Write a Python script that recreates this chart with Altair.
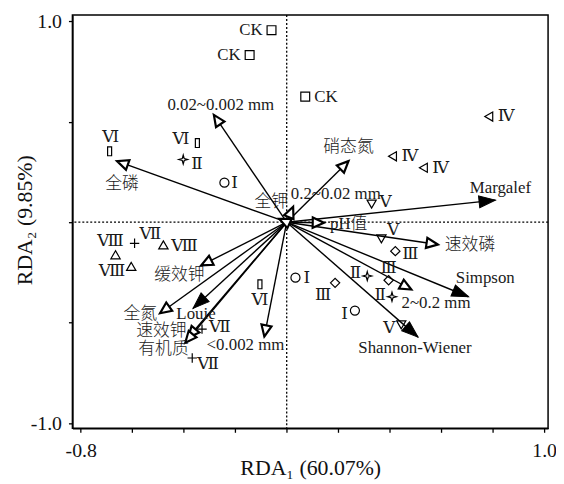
import math
import altair as alt
import pandas as pd

# ---------------- data ----------------
arrow_names = ["0.02~0.002 mm", "全磷", "全钾", "0.2~0.02 mm", "硝态氮", "Margalef", "pH值",
               "速效磷", "Simpson", "2~0.2 mm", "Shannon-Wiener", "缓效钾", "全氮", "Louie",
               "速效钾", "有机质", "<0.002 mm"]
arrow_x = [-0.283, -0.659, -0.029, 0.025, 0.240, 0.811, 0.145, 0.587, 0.706, 0.484, 0.510,
           -0.332, -0.492, -0.364, -0.383, -0.394, -0.087]
arrow_y = [0.534, 0.304, 0.017, 0.077, 0.304, 0.110, -0.003, -0.111, -0.371, -0.335, -0.572,
           -0.215, -0.453, -0.429, -0.575, -0.600, -0.569]
arrow_filled = [False, False, False, False, False, True, False, False, True, False, True,
                False, False, True, False, False, False]

site_labels = ["CK", "CK", "CK", "Ⅵ", "Ⅵ", "Ⅵ", "Ⅱ", "Ⅱ", "Ⅱ", "Ⅰ", "Ⅰ", "Ⅰ",
               "Ⅳ", "Ⅳ", "Ⅳ", "Ⅴ", "Ⅴ", "Ⅴ", "Ⅲ", "Ⅲ", "Ⅲ", "Ⅷ", "Ⅷ", "Ⅷ", "Ⅶ", "Ⅶ", "Ⅶ"]
site_x = [-0.059, -0.144, 0.072, -0.688, -0.347, -0.104, -0.402, 0.313, 0.409, -0.242, 0.034,
          0.265, 0.785, 0.411, 0.531, 0.330, 0.368, 0.445, 0.422, 0.396, 0.188, -0.665, -0.604,
          -0.479, -0.591, -0.329, -0.367]
site_y = [0.956, 0.832, 0.625, 0.353, 0.394, -0.309, 0.312, -0.268, -0.371, 0.197, -0.276,
          -0.440, 0.526, 0.328, 0.271, 0.090, -0.083, -0.511, -0.144, -0.289, -0.302, -0.162,
          -0.220, -0.113, -0.105, -0.532, -0.676]

x_ticks = [-0.8, -0.6, -0.4, -0.2, 0.0, 0.2, 0.4, 0.6, 0.8, 1.0]
y_ticks = [-1.0, -0.5, 0.0, 0.5, 1.0]

# ---------------- layout / style ----------------
W, H = 480, 417
XMIN, XMAX = -0.8325, 1.0154
YMIN, YMAX = -1.026, 1.031
PX = W / (XMAX - XMIN)
PY = H / (YMAX - YMIN)
FONT = "'Liberation Serif', 'Times New Roman', 'DejaVu Serif', 'Noto Sans CJK SC', serif"

# label placement (pixel offsets, alignment)
arrow_lab = [(7, -10, "center"), (5, 23, "center"), (-8, -17, "center"), (43, -13, "center"),
             (0, -14, "center"), (5, -12, "center"), (6, 1, "left"), (7, 1, "left"),
             (17, -19, "center"), (25, 14, "center"), (-3, 11, "center"), (-22, 10, "center"),
             (-3, 1, "right"), (3, 6, "center"), (-27, -7, "center"), (-22, 6, "center"),
             (-19, 9, "center")]
site_lab = [(-9, 0, "right"), (-9, 0, "right"), (9, 0, "left"), (1, -14, "center"),
            (-8, -4, "right"), (0, 16, "center"), (8, 5, "left"), (-6, -3, "right"),
            (-6, -2, "right"), (7, 0, "left"), (8, 0, "left"), (-7, 3, "right"),
            (9, 0, "left"), (9, 0, "left"), (9, 0, "left"), (8, -2, "left"), (6, -9, "left"),
            (-6, 3, "right"), (7, 3, "left"), (0, -12, "center"), (-4, 12, "right"),
            (-5, -14, "center"), (-6, 5, "right"), (8, 1, "left"), (5, -9, "left"),
            (7, -2, "left"), (5, 6, "left")]

shape_map = {
    "CK": "square",
    "Ⅵ": "M-0.45,-1L0.45,-1L0.45,1L-0.45,1Z",
    "Ⅱ": "M0,-1L0.22,-0.22L1,0L0.22,0.22L0,1L-0.22,0.22L-1,0L-0.22,-0.22Z",
    "Ⅰ": "circle",
    "Ⅳ": "triangle-left",
    "Ⅴ": "triangle-down",
    "Ⅲ": "diamond",
    "Ⅷ": "triangle-up",
    "Ⅶ": "M-1,0L1,0M0,-1L0,1",
}
size_map = {"CK": 80, "Ⅵ": 90, "Ⅱ": 110, "Ⅰ": 80, "Ⅳ": 60, "Ⅴ": 70, "Ⅲ": 70, "Ⅷ": 70, "Ⅶ": 90}

# ---------------- frames ----------------
adf = pd.DataFrame({"name": arrow_names, "x": arrow_x, "y": arrow_y, "filled": arrow_filled})
adf["x0"] = 0.0
adf["y0"] = 0.0
adf["angle"] = [(math.degrees(math.atan2(x * PX, y * PY)) + 360) % 360 for x, y in zip(arrow_x, arrow_y)]
alab = pd.DataFrame({
    "name": arrow_names,
    "x": [x + o[0] / PX for x, o in zip(arrow_x, arrow_lab)],
    "y": [y - o[1] / PY for y, o in zip(arrow_y, arrow_lab)],
    "align": [o[2] for o in arrow_lab],
})
sdf = pd.DataFrame({"grp": site_labels, "x": site_x, "y": site_y})
slab = pd.DataFrame({
    "name": site_labels,
    "x": [x + o[0] / PX for x, o in zip(site_x, site_lab)],
    "y": [y - o[1] / PY for y, o in zip(site_y, site_lab)],
    "align": [o[2] for o in site_lab],
})

xs = alt.Scale(domain=[XMIN, XMAX], nice=False, zero=False)
ys = alt.Scale(domain=[YMIN, YMAX], nice=False, zero=False)
xaxis = alt.Axis(values=x_ticks, title="RDA₁ (60.07%)",
                 labelExpr="datum.value < -0.79 ? '-0.8' : (datum.value > 0.99 ? '1.0' : '')",
                 titleY=47, titleBaseline="alphabetic", labelPadding=8)
yaxis = alt.Axis(values=y_ticks, title="RDA₂ (9.85%)",
                 labelExpr="datum.value < -0.99 ? '-1.0' : (datum.value > 0.99 ? '1.0' : '')",
                 titleX=-41, titleY=H / 2 - 2, titleBaseline="alphabetic", labelPadding=7)
X = lambda f="x": alt.X(f + ":Q", scale=xs, axis=xaxis)
Y = lambda f="y": alt.Y(f + ":Q", scale=ys, axis=yaxis)

zero = pd.DataFrame({"x": [0.0], "y": [0.0]})
vline = alt.Chart(zero).mark_rule(color="black", strokeWidth=1.3, strokeDash=[2, 2]).encode(x=X())
hline = alt.Chart(zero).mark_rule(color="black", strokeWidth=1.3, strokeDash=[2, 2]).encode(y=Y())

rules = alt.Chart(adf).mark_rule(color="black", strokeWidth=1.4).encode(
    x=X("x0"), y=Y("y0"), x2="x:Q", y2="y:Q")

HEAD_OPEN = "M0,0L-0.45,1L0.45,1Z"
HEAD_FILL = "M0,0L-0.36,1L0.36,1Z"
heads_open = alt.Chart(adf[~adf["filled"]]).mark_point(
    shape=HEAD_OPEN, size=520, filled=True, fill="white", stroke="black", strokeWidth=2.2,
    opacity=1).encode(x=X(), y=Y(), angle=alt.Angle("angle:Q", scale=None))
heads_fill = alt.Chart(adf[adf["filled"]]).mark_point(
    shape=HEAD_FILL, size=1100, filled=True, fill="black", stroke="black", strokeWidth=1,
    opacity=1).encode(x=X(), y=Y(), angle=alt.Angle("angle:Q", scale=None))

groups = list(shape_map.keys())
sites = alt.Chart(sdf).mark_point(filled=False, color="black", strokeWidth=1.2, opacity=1).encode(
    x=X(), y=Y(),
    shape=alt.Shape("grp:N", scale=alt.Scale(domain=groups, range=[shape_map[g] for g in groups]), legend=None),
    size=alt.Size("grp:N", scale=alt.Scale(domain=groups, range=[size_map[g] for g in groups]), legend=None),
)

text_layers = []
for a in ["left", "center", "right"]:
    d = alab[alab["align"] == a]
    if len(d):
        text_layers.append(alt.Chart(d).mark_text(align=a, baseline="middle", font=FONT, fontSize=17,
                                                  fontWeight=300, color="#1a1a1a").encode(
            x=X(), y=Y(), text="name:N"))
    d = slab[slab["align"] == a]
    if len(d):
        text_layers.append(alt.Chart(d).mark_text(align=a, baseline="middle", font=FONT, fontSize=17,
                                                  fontWeight=300, color="#1a1a1a").encode(
            x=X(), y=Y(), text="name:N"))

chart = alt.layer(vline, hline, rules, sites, heads_open, heads_fill, *text_layers).properties(
    width=W, height=H,
    autosize=alt.AutoSizeParams(type="none"),
    padding={"left": 65, "top": 5, "right": 8, "bottom": 50},
).configure_view(stroke="black", strokeWidth=1.5).configure_axis(
    grid=False, domainColor="black", domainWidth=1.5, tickColor="black", tickWidth=1.3, tickSize=4,
    labelFont=FONT, labelFontSize=20, labelColor="#111", titleFont=FONT, titleFontSize=22,
    titleFontWeight="normal", titleColor="#111",
)

chart.save("out.html", embed_options={"renderer": "svg", "actions": False})
